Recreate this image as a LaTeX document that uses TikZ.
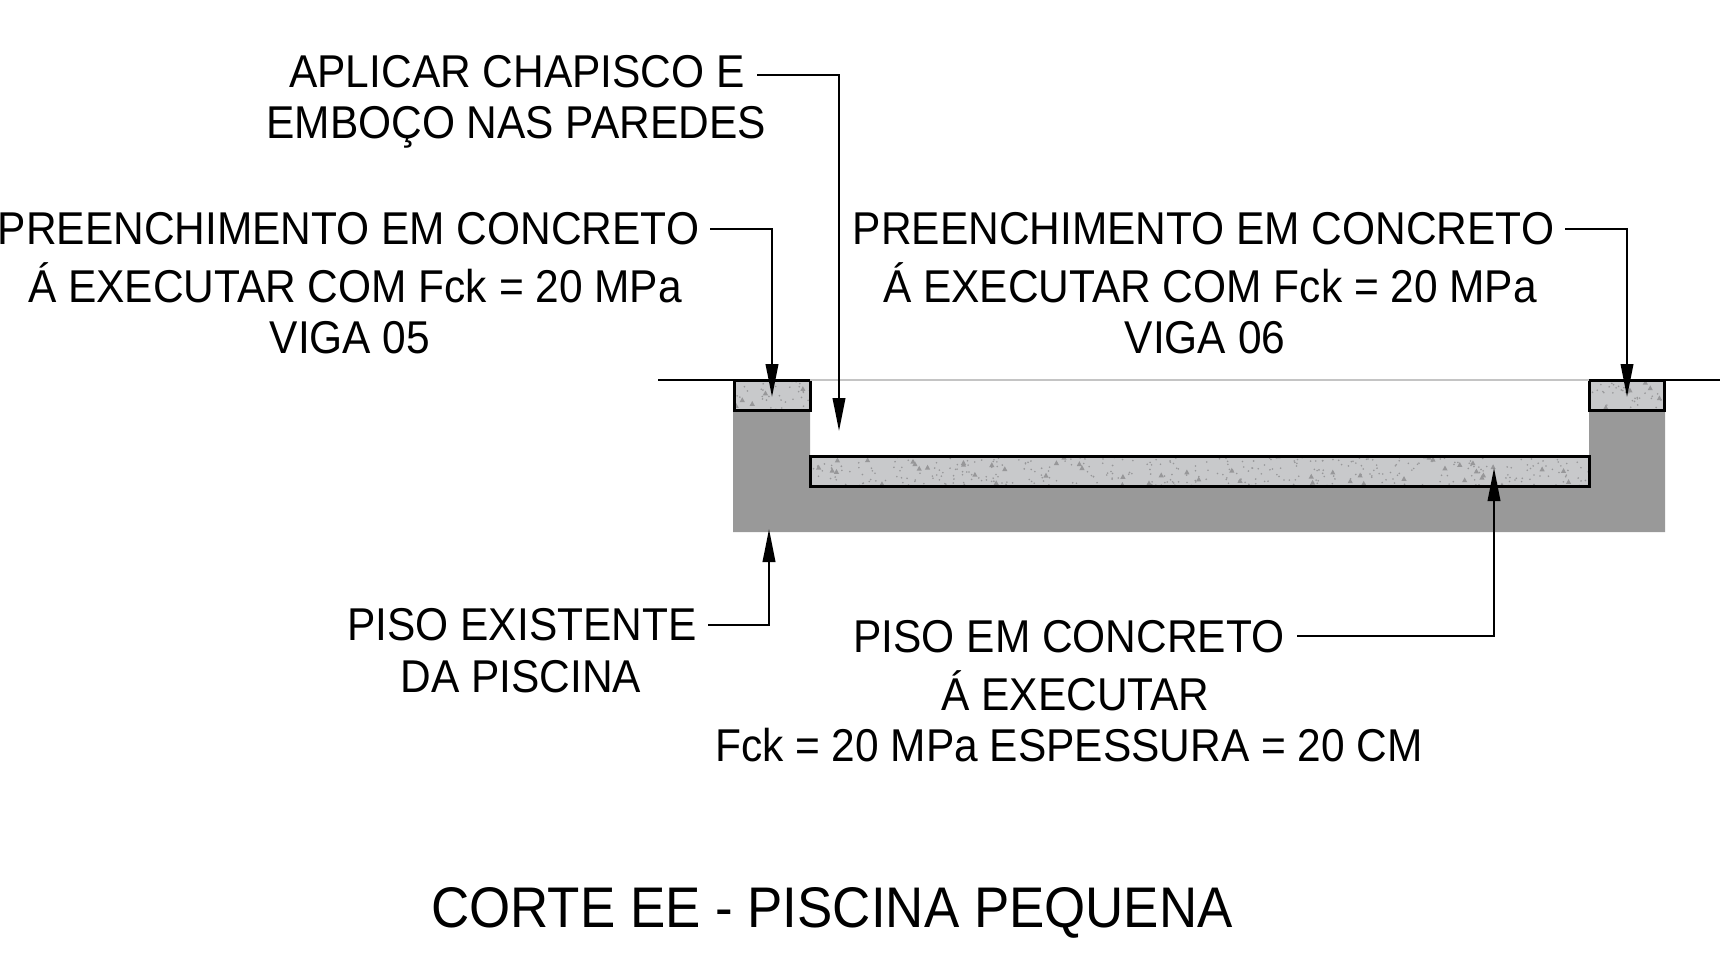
\documentclass[tikz,border=0pt]{standalone}
\usepackage{fontspec}
\setmainfont[FakeStretch=0.923]{Liberation Sans}
\usetikzlibrary{arrows.meta}
\definecolor{floorgray}{HTML}{999999}
\definecolor{concrete}{HTML}{C8C9CB}
\definecolor{speck}{HTML}{979799}
\definecolor{groundlight}{HTML}{C4C4C4}
\tikzset{
  lbl/.style={anchor=base,inner sep=0pt,font=\fontsize{46}{46}\selectfont,text=black},
  ttl/.style={anchor=base,inner sep=0pt,font=\fontsize{57.3}{57.3}\selectfont,text=black},
  leader/.style={draw=black,line width=2.2pt,-{Triangle[length=33pt,width=12.5pt]}},
  slab/.style={fill=concrete},
  slabedge/.style={draw=black,line width=3pt},
  ground/.style={draw=black,line width=2.2pt},
}
% specks inside a rectangle: x0 y0 width height count
\newcommand{\speckle}[5]{%
  \begin{scope}
    \clip (#1,#2) rectangle ++(#3,#4);
    \foreach \i in {1,...,#5}{%
      \pgfmathsetmacro{\px}{#1+rnd*#3}%
      \pgfmathsetmacro{\py}{#2+rnd*#4}%
      \fill[speck] (\px,\py) circle (0.9);
    }%
    \pgfmathtruncatemacro{\ntri}{#5/7}%
    \foreach \i in {1,...,\ntri}{%
      \pgfmathsetmacro{\px}{#1+rnd*#3}%
      \pgfmathsetmacro{\py}{#2+rnd*#4}%
      \fill[speck] (\px-2.6,\py+2.2) -- (\px+2.6,\py+2.2) -- (\px,\py-2.6) -- cycle;
    }%
  \end{scope}%
}
\begin{document}
\begin{tikzpicture}[x=1pt,y=-1pt]
\useasboundingbox (0,0) rectangle (1720,966);
\pgfmathsetseed{4217}
% existing floor
\fill[floorgray] (733,410) -- (810,410) -- (810,486) -- (1589,486) -- (1589,410)
  -- (1665,410) -- (1665,532) -- (733,532) -- cycle;
% concrete parts
\fill[slab] (734,380) rectangle (810,410);
\speckle{734}{380}{76}{30}{35}
\draw[slabedge] (734,380) rectangle (810,410);
\fill[slab] (1589,380) rectangle (1664,410);
\speckle{1589}{380}{75}{30}{35}
\draw[slabedge] (1589,380) rectangle (1664,410);
\fill[slab] (810,456) rectangle (1589,486);
\speckle{810}{456}{779}{30}{380}
\draw[slabedge] (810,456) rectangle (1589,486);
% ground line
\coordinate (gl) at (658,380);
\coordinate (gla) at (734,380);
\coordinate (glb) at (810,380);
\coordinate (glc) at (1589,380);
\coordinate (gld) at (1664,380);
\coordinate (gle) at (1720,380);
\draw[ground] (gl) -- (gla);
\draw[draw=groundlight,line width=1.6pt] (glb) -- (glc);
\draw[ground] (gld) -- (gle);
% texts
\node[lbl] (apl1) at (517,87) {APLICAR CHAPISCO E};
\node[lbl] (apl2) at (516,138.5) {EMBOÇO NAS PAREDES};
\node[lbl] (pa1) at (348.5,244) {PREENCHIMENTO EM CONCRETO};
\node[lbl] (pa2) at (355,302) {Á EXECUTAR COM Fck = 20 MPa};
\node[lbl] (pa3) at (350,353.5) {VIGA 05};
\node[lbl] (pb1) at (1203.5,244) {PREENCHIMENTO EM CONCRETO};
\node[lbl] (pb2) at (1210,302) {Á EXECUTAR COM Fck = 20 MPa};
\node[lbl] (pb3) at (1205,353.5) {VIGA 06};
\node[lbl] (pe1) at (522,640) {PISO EXISTENTE};
\node[lbl] (pe2) at (521,692) {DA PISCINA};
\node[lbl] (pc1) at (1069,652) {PISO EM CONCRETO};
\node[lbl] (pc2) at (1075.5,710) {Á EXECUTAR};
\node[lbl] (pc3) at (1069,761) {Fck = 20 MPa ESPESSURA = 20 CM};
\node[ttl] (title) at (832,927) {CORTE EE - PISCINA PEQUENA};
% leaders
\coordinate (la) at (757,75);
\coordinate (lat) at (839,431);
\draw[leader] (la) -| (lat);
\coordinate (lb) at (710,229);
\coordinate (lbt) at (772,397);
\draw[leader] (lb) -| (lbt);
\coordinate (lc) at (1565,229);
\coordinate (lct) at (1627,397);
\draw[leader] (lc) -| (lct);
\coordinate (ld) at (708,625);
\coordinate (ldt) at (769,529);
\draw[leader] (ld) -| (ldt);
\coordinate (le) at (1297,636);
\coordinate (let) at (1494,468);
\draw[leader] (le) -| (let);
\end{tikzpicture}
\end{document}
